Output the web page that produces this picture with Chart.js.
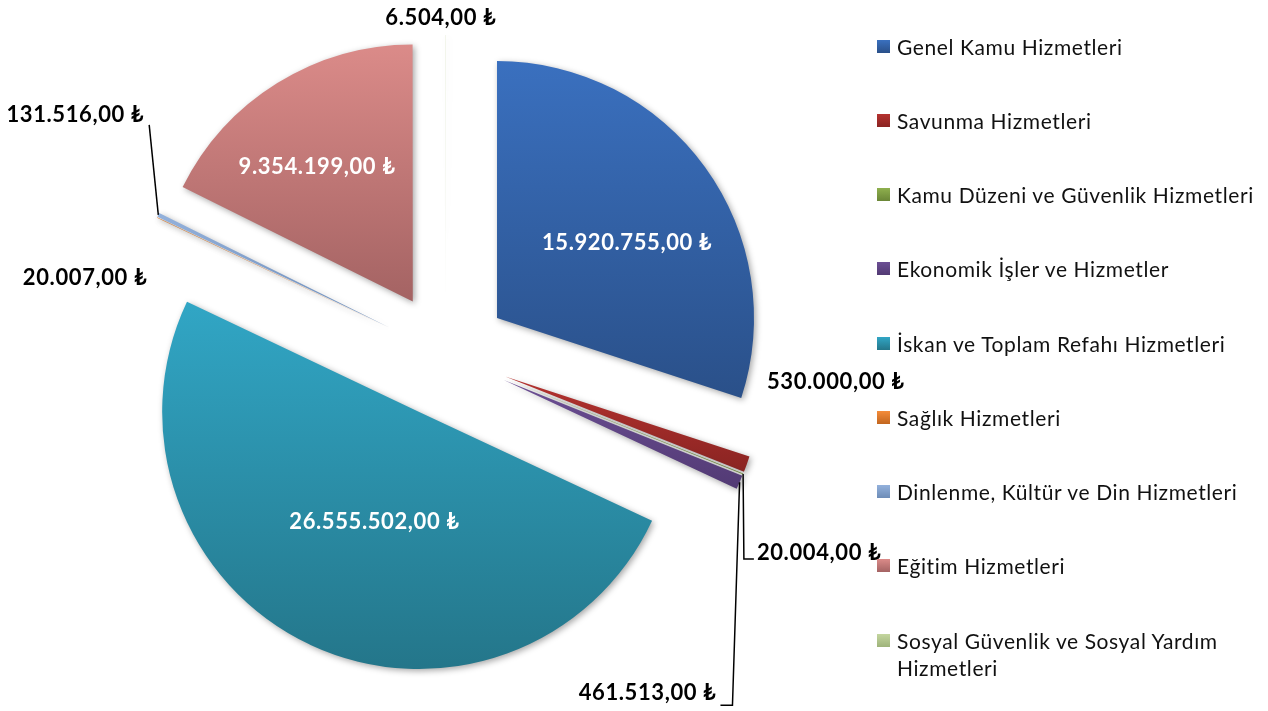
<!DOCTYPE html>
<html>
<head>
<meta charset="utf-8">
<script src="https://cdn.jsdelivr.net/npm/chart.js@4.4.1/dist/chart.umd.min.js"></script>
<style>
  html, body { margin: 0; padding: 0; background: #fff; }
  #wrap { position: relative; width: 1268px; height: 711px; overflow: hidden; }
  #chart { position: absolute; left: 0; top: 0; }
  #legend { position: absolute; left: 877px; top: 0; width: 391px;
    font-family: Lato, "Open Sans", sans-serif; font-size: 21px; letter-spacing: 0.6px; line-height: 27px; color: #111; }
  .item { position: absolute; left: 0; width: 391px; }
  .sw { position: absolute; left: 0; top: 7px; width: 13px; height: 13px; }
  .txt { margin-left: 20px; }
</style>
</head>
<body>
<div id="wrap">
  <canvas id="chart" width="1268" height="711"></canvas>
  <div id="legend"></div>
</div>
<script>
const categories = [
  'Genel Kamu Hizmetleri',
  'Savunma Hizmetleri',
  'Kamu Düzeni ve Güvenlik Hizmetleri',
  'Ekonomik İşler ve Hizmetler',
  'İskan ve Toplam Refahı Hizmetleri',
  'Sağlık Hizmetleri',
  'Dinlenme, Kültür ve Din Hizmetleri',
  'Eğitim Hizmetleri',
  'Sosyal Güvenlik ve Sosyal Yardım Hizmetleri',
];
const amounts = [15920755, 530000, 20004, 461513, 26555502, 20007, 131516, 9354199, 6504];

// gradient colours per slice (top -> bottom)
const shadeTop    = ['#3a70bf', '#b5322f', '#8fb04e', '#6c4f94', '#31a6c5', '#f48c3a', '#93b1dc', '#db8b89', '#c4d69f'];
const shadeBottom = ['#2a5089', '#8a2422', '#6a8637', '#523a74', '#24768a', '#c2661f', '#6d8cb7', '#a46363', '#9eb37a'];

// label placement: inside (white, at half radius) or outside (black, at rim), plus a small nudge
const labelInside = [true, false, false, false, true, false, false, true, false];
const labelNudge = [[26, 0], [89, -82], [76, 79], [-92, 211], [10, -6], [-72, 60], [-83, -100], [-28, -25], [-5, -17]];
// leader lines: side of label the line attaches to, vertical shift, elbow length
const leaders = [null, null, { side: 'left', dy: 6, gap: 3, elbow: 10 }, { side: 'right', dy: 12, gap: 4, elbow: 12 },
  null, null, { side: 'right', dy: 10, gap: 5, elbow: 0 }, null, null];

const EXPLODE = 63;
const RADIUS = 257;
const LABEL_FONT = 'bold 22px Lato, "Open Sans", sans-serif';

function fmtTL(v) {
  const s = String(Math.round(v)).replace(/\B(?=(\d{3})+(?!\d))/g, '.');
  return s + ',00 ₺';
}

function sectorYRange(arc) {
  const ys = [arc.y];
  const r = arc.outerRadius;
  [arc.startAngle, arc.endAngle].forEach((a) => ys.push(arc.y + Math.sin(a) * r));
  [-Math.PI / 2, Math.PI / 2, 3 * Math.PI / 2].forEach((a) => {
    if (a >= arc.startAngle && a <= arc.endAngle) ys.push(arc.y + Math.sin(a) * r);
  });
  return [Math.min(...ys), Math.max(...ys)];
}

const explodePlugin = {
  id: 'explode',
  afterDatasetsUpdate(chart) {
    const ctx = chart.ctx;
    chart.getDatasetMeta(0).data.forEach((arc, i) => {
      const mid = (arc.startAngle + arc.endAngle) / 2;
      arc.x += Math.cos(mid) * EXPLODE;
      arc.y += Math.sin(mid) * EXPLODE;
      const [y0, y1] = sectorYRange(arc);
      const g = ctx.createLinearGradient(0, y0, 0, Math.max(y1, y0 + 1));
      g.addColorStop(0, shadeTop[i]);
      g.addColorStop(1, shadeBottom[i]);
      arc.options = Object.assign({}, arc.options, { backgroundColor: g });
    });
  },
  beforeDatasetsDraw(chart) {
    const ctx = chart.ctx;
    ctx.save();
    ctx.shadowColor = 'rgba(0,0,0,0.35)';
    ctx.shadowBlur = 6;
    ctx.shadowOffsetX = 2;
    ctx.shadowOffsetY = 2;
  },
  afterDatasetsDraw(chart) {
    const ctx = chart.ctx;
    ctx.restore();
    ctx.save();
    ctx.font = LABEL_FONT;
    ctx.letterSpacing = '0.6px';
    ctx.textAlign = 'center';
    ctx.textBaseline = 'middle';
    chart.getDatasetMeta(0).data.forEach((arc, i) => {
      const mid = (arc.startAngle + arc.endAngle) / 2;
      const rr = labelInside[i] ? arc.outerRadius / 2 : arc.outerRadius;
      const ax = arc.x + Math.cos(mid) * rr;
      const ay = arc.y + Math.sin(mid) * rr;
      const lx = ax + labelNudge[i][0];
      const ly = ay + labelNudge[i][1];
      const text = fmtTL(amounts[i]);
      const w = ctx.measureText(text).width;
      ctx.fillStyle = labelInside[i] ? '#ffffff' : '#000000';
      ctx.fillText(text, lx, ly);
      const ld = leaders[i];
      if (ld) {
        const dir = ld.side === 'right' ? 1 : -1;
        const ex = lx + dir * (w / 2 + ld.gap);
        const ey = ly + ld.dy;
        ctx.beginPath();
        ctx.strokeStyle = '#000';
        ctx.lineWidth = 1.5;
        ctx.moveTo(ax, ay);
        ctx.lineTo(ex + dir * ld.elbow, ey);
        ctx.lineTo(ex, ey);
        ctx.stroke();
      }
    });
    ctx.restore();
  },
};

new Chart(document.getElementById('chart'), {
  type: 'pie',
  data: {
    labels: categories,
    datasets: [{ data: amounts, backgroundColor: shadeTop, borderWidth: 0 }],
  },
  options: {
    responsive: false,
    devicePixelRatio: 1,
    animation: false,
    events: [],
    radius: RADIUS,
    layout: { padding: { left: 0, top: 0, right: 376, bottom: 1 } },
    plugins: { legend: { display: false }, tooltip: { enabled: false } },
  },
  plugins: [explodePlugin],
});

// legend on the right
const legendEl = document.getElementById('legend');
const ROW_STEP = 74.25;
categories.forEach((name, i) => {
  const item = document.createElement('div');
  item.className = 'item';
  item.style.top = (46 - 13.5 + i * ROW_STEP) + 'px';
  const sw = document.createElement('div');
  sw.className = 'sw';
  sw.style.background = `linear-gradient(${shadeTop[i]}, ${shadeBottom[i]})`;
  const txt = document.createElement('div');
  txt.className = 'txt';
  txt.textContent = name;
  item.appendChild(sw);
  item.appendChild(txt);
  legendEl.appendChild(item);
});
</script>
</body>
</html>
